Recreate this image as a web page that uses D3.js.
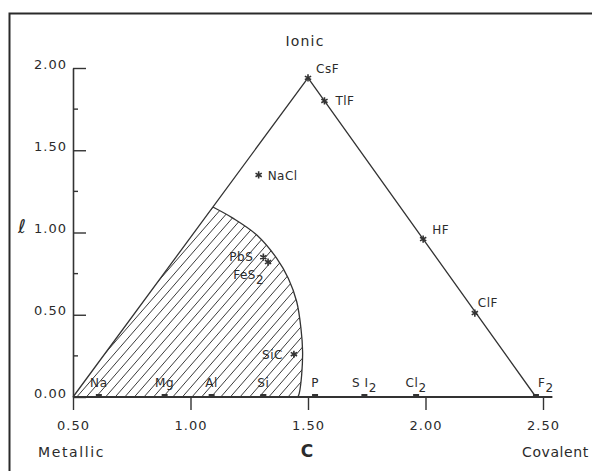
<!DOCTYPE html>
<html>
<head>
<meta charset="utf-8">
<script src="https://cdn.jsdelivr.net/npm/d3@7"></script>
<style>
  html, body { margin: 0; padding: 0; background: #fff; }
  svg { display: block; }
  text { font-family: "DejaVu Sans", sans-serif; fill: #2b2b2b; }
</style>
</head>
<body>
<svg id="chart" width="592" height="471"></svg>
<script>
// ---------- data ----------
const compounds = ["CsF", "TlF", "NaCl", "HF", "ClF", "PbS", "FeS2", "SiC"];
const compoundC = [1.50, 1.57, 1.29, 1.99, 2.21, 1.31, 1.33, 1.44];
const compoundI = [1.94, 1.80, 1.35, 0.96, 0.51, 0.85, 0.82, 0.26];

const elements = ["Na", "Mg", "Al", "Si", "P", "S I2", "Cl2", "F2"];
const elementC = [0.61, 0.89, 1.09, 1.31, 1.53, 1.74, 1.96, 2.47];

const triangleC = [0.50, 1.50, 2.47];
const triangleI = [0.00, 1.94, 0.00];

const metallicC = [1.095, 1.182, 1.282, 1.367, 1.416, 1.452, 1.470, 1.477, 1.473, 1.463, 1.457];
const metallicI = [1.155, 1.086, 0.985, 0.843, 0.722, 0.579, 0.418, 0.275, 0.134, 0.024, 0.000];

const xTicks = [0.5, 1.0, 1.5, 2.0, 2.5];
const xTickLabels = ["0.50", "1.00", "1.50", "2.00", "2.50"];
const yTicks = [0, 0.5, 1.0, 1.5, 2.0];
const yTickLabels = ["0.00", "0.50", "1.00", "1.50", "2.00"];
const yMinorTicks = [0.25, 0.75, 1.25, 1.75];

// ---------- label placement (layout only) ----------
const compoundLabelPos = {
  "CsF":  {dx: 8,   dy: -5, anchor: "start"},
  "TlF":  {dx: 11,  dy: 4,  anchor: "start"},
  "NaCl": {dx: 9,   dy: 5,  anchor: "start"},
  "HF":   {dx: 9,   dy: -5, anchor: "start"},
  "ClF":  {dx: 3,   dy: -6, anchor: "start"},
  "PbS":  {dx: -10, dy: 4,  anchor: "end"},
  "FeS2": {dx: -4,  dy: 17, anchor: "end"},
  "SiC":  {dx: -11, dy: 5,  anchor: "end"}
};

const ink = "#333";
const svg = d3.select("#chart");

// frame
svg.append("rect").attr("x", 9.5).attr("y", 13.5).attr("width", 620).attr("height", 520)
  .attr("fill", "none").attr("stroke", "#2a2a2a").attr("stroke-width", 2);

const x = d3.scaleLinear().domain([0.5, 2.5]).range([73, 543]);
const y = d3.scaleLinear().domain([0, 2]).range([397, 68]);

// ---------- metallic hatched region ----------
const arcLine = d3.line().x((d, i) => x(metallicC[i])).y((d, i) => y(metallicI[i]))
  .curve(d3.curveCatmullRom);
const arcPath = arcLine(metallicC);
const regionPath = "M" + x(triangleC[0]) + "," + y(triangleI[0]) + "L" + arcPath.slice(1) + "Z";

svg.append("clipPath").attr("id", "metalClip").append("path").attr("d", regionPath);

const hatch = svg.append("g").attr("clip-path", "url(#metalClip)");
const slope = 1.15, spacing = 9.6, hh = 360;
const offs = d3.range(-hh / slope, 260, spacing);
hatch.selectAll("line").data(offs).join("line")
  .attr("x1", d => x(0.5) + d)
  .attr("y1", y(0))
  .attr("x2", d => x(0.5) + d + hh / slope)
  .attr("y2", y(0) - hh)
  .attr("stroke", "#3a3a3a").attr("stroke-width", 1);

svg.append("path").attr("d", arcPath).attr("fill", "none")
  .attr("stroke", ink).attr("stroke-width", 1.3);

// ---------- triangle ----------
svg.append("path")
  .attr("d", d3.line().x((d, i) => x(triangleC[i])).y((d, i) => y(triangleI[i]))(triangleC))
  .attr("fill", "none").attr("stroke", ink).attr("stroke-width", 1.3);

// ---------- axes ----------
const yAxis = d3.axisLeft(y).tickValues(yTicks).tickFormat((d, i) => yTickLabels[i])
  .tickSizeInner(-13).tickSizeOuter(0).tickPadding(6);
const gy = svg.append("g").attr("transform", `translate(${x(0.5)},0)`).call(yAxis);
gy.select(".domain").attr("stroke", ink).attr("stroke-width", 1.6);
gy.selectAll(".tick line").attr("stroke", ink).attr("stroke-width", 1.4);
gy.selectAll(".tick text").attr("dy", "0").attr("font-size", 13)
  .attr("letter-spacing", 1).attr("fill", "#2b2b2b")
  .attr("font-family", "DejaVu Sans");

gy.selectAll(".minor").data(yMinorTicks).join("line").attr("class", "minor")
  .attr("x1", 0).attr("x2", 5).attr("y1", d => y(d)).attr("y2", d => y(d))
  .attr("stroke", ink).attr("stroke-width", 1.4);

const xAxis = d3.axisBottom(x).tickValues(xTicks).tickFormat((d, i) => xTickLabels[i])
  .tickSizeInner(13).tickSizeOuter(0).tickPadding(8);
const gx = svg.append("g").attr("transform", `translate(0,${y(0)})`).call(xAxis);
gx.select(".domain").attr("d", `M${x(0.5)},0H${x(2.54)}`)
  .attr("stroke", ink).attr("stroke-width", 2);
gx.selectAll(".tick line").attr("stroke", ink).attr("stroke-width", 1.4);
gx.selectAll(".tick text").attr("y", 33).attr("dy", "0").attr("font-size", 13)
  .attr("letter-spacing", 1).attr("fill", "#2b2b2b")
  .attr("font-family", "DejaVu Sans");

// ---------- axis titles ----------
svg.append("text").attr("x", 305).attr("y", 46).attr("text-anchor", "middle")
  .attr("font-size", 14).attr("letter-spacing", 1.2).text("Ionic");
svg.append("text").attr("x", 38).attr("y", 457)
  .attr("font-size", 14).attr("letter-spacing", 1.6).text("Metallic");
svg.append("text").attr("x", 307).attr("y", 457).attr("text-anchor", "middle")
  .attr("font-size", 17).attr("font-weight", "bold").text("C");
svg.append("text").attr("x", 522).attr("y", 457)
  .attr("font-size", 14).attr("letter-spacing", 0.6).text("Covalent");
svg.append("text").attr("x", 22).attr("y", 233).attr("text-anchor", "middle")
  .attr("font-size", 19).attr("font-family", "DejaVu Serif").text("ℓ");

// helper for labels with trailing subscript "2"
function setLabel(sel, name) {
  const m = name.match(/^(.*?)2$/);
  if (m) {
    sel.append("tspan").text(m[1]);
    sel.append("tspan").attr("dy", 5).text("2");
  } else {
    sel.text(name);
  }
}

// ---------- elements on the C axis ----------
const eg = svg.append("g");
eg.selectAll("rect").data(elements).join("rect")
  .attr("x", (d, i) => x(elementC[i]) - 3).attr("y", y(0) - 3)
  .attr("width", 6).attr("height", 2).attr("fill", ink);
eg.selectAll("text").data(elements).join("text")
  .attr("x", (d, i) => x(elementC[i]) + (d === "F2" ? 2 : 0))
  .attr("y", y(0) - 10)
  .attr("text-anchor", d => d === "F2" ? "start" : "middle")
  .attr("font-size", 12).attr("letter-spacing", 0.6)
  .each(function (d) { setLabel(d3.select(this), d); });

// ---------- compounds ----------
const star = d3.symbol().type(d3.symbolAsterisk).size(36);
const cg = svg.append("g");
cg.selectAll("path").data(compounds).join("path")
  .attr("d", star)
  .attr("transform", (d, i) => `translate(${x(compoundC[i])},${y(compoundI[i])})`)
  .attr("fill", "none").attr("stroke", "#333").attr("stroke-width", 1.6);
cg.selectAll("text").data(compounds).join("text")
  .attr("x", (d, i) => x(compoundC[i]) + compoundLabelPos[d].dx)
  .attr("y", (d, i) => y(compoundI[i]) + compoundLabelPos[d].dy)
  .attr("text-anchor", d => compoundLabelPos[d].anchor)
  .attr("font-size", 12).attr("letter-spacing", 0.5)
  .each(function (d) { setLabel(d3.select(this), d); });
</script>
</body>
</html>
